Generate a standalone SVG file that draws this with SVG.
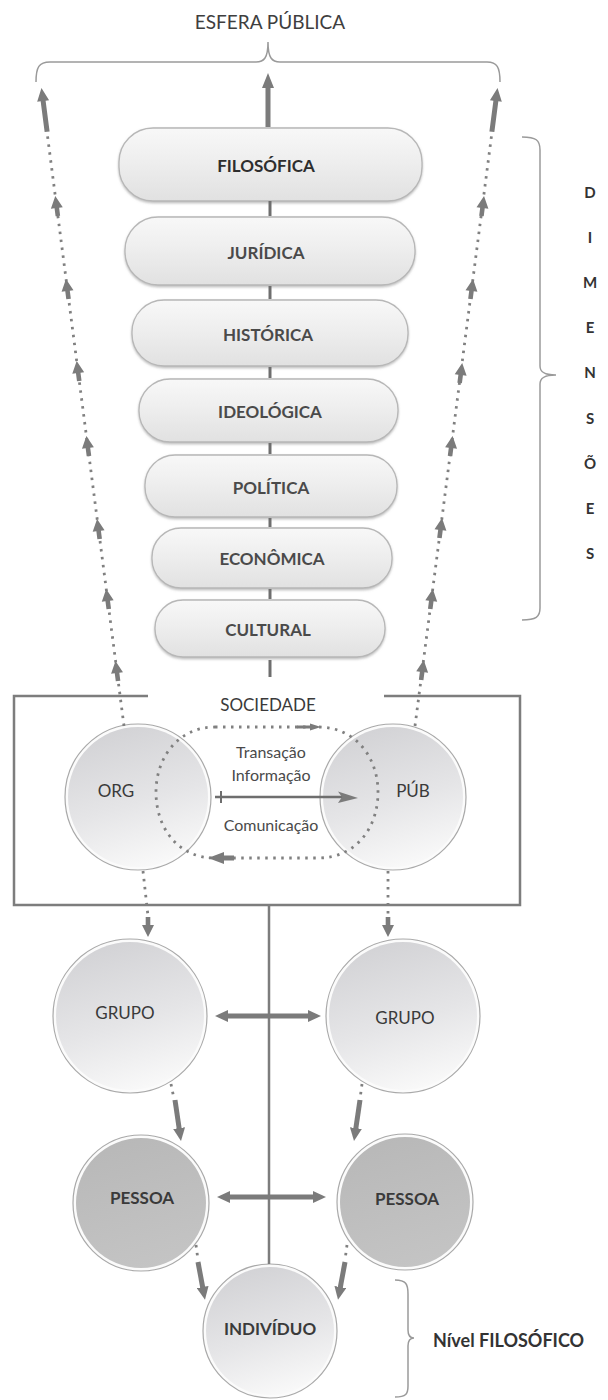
<svg xmlns="http://www.w3.org/2000/svg" width="608" height="1400" viewBox="0 0 608 1400">
<defs>
<linearGradient id="gPill" x1="0" y1="0" x2="0" y2="1"><stop offset="0" stop-color="#f8f8f8"/><stop offset="0.5" stop-color="#ededed"/><stop offset="1" stop-color="#e1e1e1"/></linearGradient>
<linearGradient id="gCirc" x1="0.3" y1="0" x2="0.6" y2="1"><stop offset="0" stop-color="#d2d2d5"/><stop offset="0.55" stop-color="#e5e5e7"/><stop offset="1" stop-color="#f9f9f9"/></linearGradient>
<linearGradient id="gDark" x1="0.3" y1="0" x2="0.6" y2="1"><stop offset="0" stop-color="#b8b8b8"/><stop offset="1" stop-color="#c4c4c4"/></linearGradient>
<filter id="sh" x="-10%" y="-15%" width="120%" height="140%"><feDropShadow dx="0" dy="1.5" stdDeviation="1.2" flood-color="#888" flood-opacity="0.55"/></filter>
<marker id="ah" viewBox="0 0 13 12" markerWidth="13" markerHeight="12" refX="2" refY="6" orient="auto-start-reverse" markerUnits="userSpaceOnUse"><path d="M0,0 L13,6 L0,12 Z" fill="#7b7b7b"/></marker>
<path id="upA" d="M0,-11 L-6,1 L-2.3,1 L-2.3,9 L2.3,9 L2.3,1 L6,1 Z"/>
<path id="upL" d="M0,-12 L-6,1 L-2.5,1 L-2.5,32 L2.5,32 L2.5,1 L6,1 Z"/>
<style>
.t{font-family:Lato,"Open Sans","Liberation Sans",sans-serif}
.pill rect{fill:url(#gPill);stroke:#b7b7b7;stroke-width:1.3;filter:url(#sh)}
.pl{font-size:17px;font-weight:700;fill:#4a4a4a;text-anchor:middle}
.pl1{fill:#2e2e2e}
.c-out{fill:#fbfbfb;stroke:#a9a9a9;stroke-width:1.2}
.c-in{fill:url(#gCirc)}
.c-dk{fill:url(#gDark)}
.cl{font-size:17px;fill:#3a3a3a;text-anchor:middle}
.cb{font-weight:700}
.tx{font-size:16px;fill:#4a4a4a;text-anchor:middle}
.dl{font-size:15px;font-weight:700;fill:#333;text-anchor:middle}
.ln{stroke:#7d7d7d;stroke-width:2.5;fill:none}
.br{stroke:#9a9a9a;stroke-width:1.5;fill:none}
.dot{stroke:#808080;stroke-width:2.8;stroke-dasharray:2.5 5.5;fill:none}
.thk{stroke:#7b7b7b;stroke-width:5;fill:none;marker-end:url(#ah)}
.dbl{stroke:#7b7b7b;stroke-width:5;fill:none;marker-start:url(#ah);marker-end:url(#ah)}
.af{fill:#7b7b7b}
</style>
</defs>
<rect width="608" height="1400" fill="#fff"/>

<g id="esfera" class="t">
<text x="270" y="29" font-size="19" fill="#3e3e3e" text-anchor="middle">ESFERA PÚBLICA</text>
<path class="br" d="M36,82 C36,67 39,62 50,62 L256,62 C264,62 268,58 268,42 C268,58 272,62 280,62 L487,62 C497,62 500,67 500,82"/>
</g>

<g id="dim-filosofica" class="pill t"><rect x="119" y="128" width="303" height="73" rx="34"/><text class="pl pl1" x="266" y="172">FILOSÓFICA</text></g>
<g id="dim-juridica" class="pill t"><rect x="125" y="217" width="290" height="68" rx="33"/><text class="pl" x="266" y="259">JURÍDICA</text></g>
<g id="dim-historica" class="pill t"><rect x="132" y="300" width="276" height="66" rx="32"/><text class="pl" x="268" y="341">HISTÓRICA</text></g>
<g id="dim-ideologica" class="pill t"><rect x="139" y="379" width="259" height="63" rx="31"/><text class="pl" x="270" y="418">IDEOLÓGICA</text></g>
<g id="dim-politica" class="pill t"><rect x="145" y="455" width="252" height="62" rx="30"/><text class="pl" x="271" y="494">POLÍTICA</text></g>
<g id="dim-economica" class="pill t"><rect x="152" y="528" width="240" height="60" rx="29"/><text class="pl" x="272" y="565">ECONÔMICA</text></g>
<g id="dim-cultural" class="pill t"><rect x="155" y="600" width="230" height="57" rx="28"/><text class="pl" x="268" y="636">CULTURAL</text></g>

<g id="dimensoes" class="t">
<path class="br" d="M522,137 C536,137 540,140 540,150 L540,366 C540,372 544,375 556,375 C544,375 540,378 540,384 L540,608 C540,617 536,620 522,620"/>
<text class="dl" x="590" y="198">D</text>
<text class="dl" x="590" y="243">I</text>
<text class="dl" x="590" y="288">M</text>
<text class="dl" x="590" y="333">E</text>
<text class="dl" x="590" y="378">N</text>
<text class="dl" x="590" y="424">S</text>
<text class="dl" x="590" y="469">Õ</text>
<text class="dl" x="590" y="514">E</text>
<text class="dl" x="590" y="559">S</text>
</g>

<g id="sociedade" class="t">
<path class="ln" d="M148,696 L14,696 L14,905 L520,905 L520,696 L384,696"/>
<text x="268" y="711" font-size="17" fill="#3a3a3a" text-anchor="middle">SOCIEDADE</text>
</g>

<g id="org" class="t"><circle class="c-out" cx="138" cy="797" r="73"/><circle class="c-in" cx="138" cy="797" r="70"/><text class="cl" x="116" y="797">ORG</text></g>
<g id="pub" class="t"><circle class="c-out" cx="393" cy="797" r="73"/><circle class="c-in" cx="393" cy="797" r="70"/><text class="cl" x="413" y="797">PÚB</text></g>
<g id="grupo-l" class="t"><circle class="c-out" cx="130" cy="1016" r="77"/><circle class="c-in" cx="130" cy="1016" r="74"/><text class="cl" x="125" y="1019">GRUPO</text></g>
<g id="grupo-r" class="t"><circle class="c-out" cx="403" cy="1016" r="77"/><circle class="c-in" cx="403" cy="1016" r="74"/><text class="cl" x="405" y="1024">GRUPO</text></g>
<g id="pessoa-l" class="t"><circle class="c-out" cx="141" cy="1203" r="68"/><circle class="c-dk" cx="141" cy="1203" r="65"/><text class="cl cb" x="142" y="1204">PESSOA</text></g>
<g id="pessoa-r" class="t"><circle class="c-out" cx="405" cy="1202" r="68"/><circle class="c-dk" cx="405" cy="1202" r="65"/><text class="cl cb" x="407" y="1205">PESSOA</text></g>
<g id="individuo" class="t"><circle class="c-out" cx="270" cy="1331" r="67"/><circle class="c-in" cx="270" cy="1331" r="64"/><text class="cl cb" x="270" y="1335">INDIVÍDUO</text></g>

<g id="nivel" class="t">
<path class="br" d="M395,1280 C406,1280 408,1284 408,1294 L408,1330 C408,1335 410,1338 414,1338 C410,1338 408,1341 408,1346 L408,1386 C408,1394 406,1397 395,1397"/>
<text x="433" y="1347" font-size="18" font-weight="700" fill="#333">Nível FILOSÓFICO</text>
</g>

<g id="loop-labels" class="t">
<text class="tx" x="271" y="758">Transação</text>
<text class="tx" x="271" y="781">Informação</text>
<text class="tx" x="271" y="831">Comunicação</text>
</g>

<g id="connectors">
<path class="af" d="M268,73 L262,88 L265.5,88 L265.5,127 L270.5,127 L270.5,88 L274,88 Z"/>
<use href="#upL" class="af" transform="translate(43,100) rotate(-7.4)"/>
<use href="#upL" class="af" transform="translate(496,100) rotate(7.4)"/>
<g stroke="#6e6e6e" stroke-width="3">
<line x1="270" y1="201" x2="270" y2="216"/>
<line x1="270" y1="286" x2="270" y2="299"/>
<line x1="270" y1="367" x2="270" y2="378"/>
<line x1="270" y1="443" x2="270" y2="454"/>
<line x1="270" y1="518" x2="270" y2="527"/>
<line x1="270" y1="589" x2="270" y2="599"/>
<line x1="270" y1="660" x2="270" y2="677"/>
</g>
<line class="dot" x1="124" y1="726" x2="47" y2="132"/>
<line class="dot" x1="415" y1="726" x2="492" y2="132"/>
<g class="af">
<use href="#upA" transform="translate(56.7,207) rotate(-7.4)"/>
<use href="#upA" transform="translate(67.4,290) rotate(-7.4)"/>
<use href="#upA" transform="translate(78.1,372) rotate(-7.4)"/>
<use href="#upA" transform="translate(87.8,447) rotate(-7.4)"/>
<use href="#upA" transform="translate(98.5,530) rotate(-7.4)"/>
<use href="#upA" transform="translate(107.6,600) rotate(-7.4)"/>
<use href="#upA" transform="translate(116.9,672) rotate(-7.4)"/>
<use href="#upA" transform="translate(482.6,207) rotate(7.4)"/>
<use href="#upA" transform="translate(471.6,290) rotate(7.4)"/>
<use href="#upA" transform="translate(460.8,374) rotate(7.4)"/>
<use href="#upA" transform="translate(451.2,447) rotate(7.4)"/>
<use href="#upA" transform="translate(440.6,529) rotate(7.4)"/>
<use href="#upA" transform="translate(431.4,600) rotate(7.4)"/>
<use href="#upA" transform="translate(422.3,671) rotate(7.4)"/>
</g>
<path class="dot" d="M215,727 L318,727 C356,727 378,758 378,792 C378,828 356,858 318,858 L215,858 C178,858 156,828 156,792 C156,758 178,727 215,727 Z"/>
<path class="af" d="M297,725.6 L310,725.6 L310,723.5 L321,727 L310,730.5 L310,728.4 L297,728.4 Z"/>
<path class="af" d="M234,855.5 L224,855.5 L224,852 L208,858 L224,864 L224,860.5 L234,860.5 Z"/>
<line x1="215" y1="797" x2="344" y2="797" stroke="#6e6e6e" stroke-width="2.5"/>
<line x1="221" y1="791" x2="221" y2="803" stroke="#6e6e6e" stroke-width="2"/>
<path class="af" d="M338,791.5 L358,798 L338,803 L342,797 Z"/>
<line class="dot" x1="143" y1="871" x2="148" y2="916"/>
<use href="#upA" class="af" transform="translate(148,926) rotate(180)"/>
<line class="dot" x1="388" y1="871" x2="388" y2="916"/>
<use href="#upA" class="af" transform="translate(388,926) rotate(180)"/>
<line class="ln" x1="269" y1="905" x2="269" y2="1264"/>
<line class="dbl" x1="226" y1="1016" x2="310" y2="1016"/>
<line class="dbl" x1="228" y1="1197" x2="315" y2="1197"/>
<line class="dot" x1="171" y1="1084" x2="174" y2="1099"/>
<line class="thk" x1="175" y1="1100" x2="179.4" y2="1130"/>
<line class="dot" x1="362" y1="1084" x2="360" y2="1099"/>
<line class="thk" x1="360" y1="1100" x2="355.6" y2="1130"/>
<line class="dot" x1="196" y1="1245" x2="198" y2="1260"/>
<line class="thk" x1="198" y1="1262" x2="203" y2="1289"/>
<line class="dot" x1="347" y1="1245" x2="345" y2="1260"/>
<line class="thk" x1="345" y1="1262" x2="340" y2="1289"/>
</g>
</svg>
